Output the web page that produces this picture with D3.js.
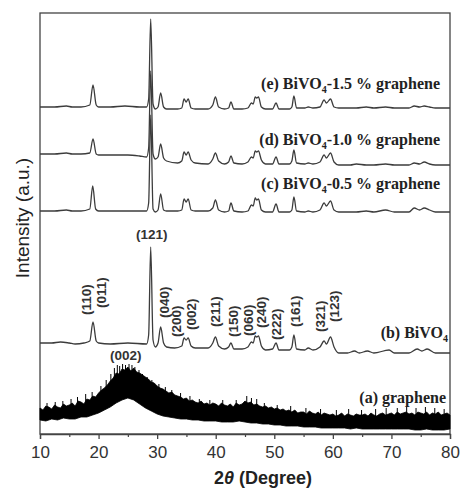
<!DOCTYPE html>
<html>
<head>
<meta charset="utf-8">
<script src="https://cdn.jsdelivr.net/npm/d3@7"></script>
<style>
  body { margin: 0; background: #fff; }
  svg { display: block; }
  .tick text { font-family: "Liberation Sans", Arial, sans-serif; }
</style>
</head>
<body>
<div id="chart"></div>
<script>
// 2theta (deg) and relative intensity
const bivo4 = [
  [10,0],[12,0],[13.5,1],[15,0],[16,-1],[17.5,0],[18.5,2],[19.05,21],[19.6,2],[20,0],[22,-1],[25,0],
  [28.2,-1],[28.55,8],[28.9,96],[29.3,3],[29.7,-4],[30.15,0],[30.6,16],[31.1,0],[31.6,-4],[33,-5],
  [34.2,-3],[34.6,5],[34.95,3],[35.3,5],[35.8,-3],[36.5,-5],[38.7,-5],[39.5,0],[39.95,6],[40.5,-3],
  [41.5,-6],[42.2,-4],[42.6,0],[43.1,-6],[44.5,-6],[45.5,-4],[46.1,1],[46.4,0],[46.75,7],[47,6],
  [47.3,7],[47.8,-3],[48.5,-7],[49.7,-6],[50.3,0],[50.8,-7],[52.6,-7],[53,-4],[53.35,8],[53.8,-6],
  [55.2,-7],[55.8,-5],[56.6,-7],[57.8,-4],[58.5,2],[58.9,-1],[59.6,6],[60.2,-4],[61,-10],[62.5,-10],
  [63.7,-8],[64.5,-10],[65.9,-8],[67,-10],[69.6,-7],[70.5,-10],[73,-10],[74.4,-6],[75.2,-8],
  [76.1,-6],[77.5,-10],[80,-10]
];
const bivo4g05 = [
  [10,0],[12.5,0],[14.5,1],[15.5,0],[17,0],[18.5,2],[19,25],[19.5,2],[20,0],[22,0],[25,0],[27,0],
  [28.2,0],[28.55,8],[28.9,96],[29.3,2],[29.7,-1],[30.15,1],[30.6,17],[31.1,1],[31.6,0],[33.5,0],
  [34.2,1],[34.6,12],[34.95,9],[35.3,12],[35.8,1],[36.5,0],[38.7,0],[39.5,3],[39.95,11],[40.5,1],
  [41.5,-1],[42.2,0],[42.6,8],[43.1,0],[44.5,-1],[45.5,0],[46.1,6],[46.4,5],[46.75,13],[47,11],
  [47.3,12],[47.8,1],[48.5,-1],[49.7,-1],[50.3,7],[50.8,-1],[52.6,-1],[53,1],[53.35,14],[53.8,0],
  [55.2,-1],[55.8,0],[56.6,-1],[57.8,1],[58.5,8],[58.9,5],[59.6,10],[60.2,1],[61,-1],[63,-1],
  [64,-1],[65.7,0],[67,-1],[69,1],[70.5,-1],[73,-1],[73.9,3],[74.8,1],[75.6,3],[76.5,1],[77.5,-1],[80,-1]
];
const bivo4g10 = [
  [10,0],[12.5,0],[14.5,1],[15.5,0],[17,0],[18.5,1],[19.05,15],[19.6,0],[20,-1],[22,-1],[25,-1],
  [27,-2],[28.2,-3],[28.55,6],[28.9,83],[29.3,0],[29.7,-5],[30.15,-3],[30.6,10],[31.1,-4],[31.6,-7],
  [33.5,-9],[34.2,-7],[34.6,2],[34.95,-1],[35.3,2],[35.8,-6],[36.5,-9],[38.7,-10],[39.5,-5],
  [39.95,1],[40.5,-7],[41.5,-10],[42.2,-8],[42.6,-2],[43.1,-9],[44.5,-10],[45.5,-8],[46.1,-3],
  [46.4,-4],[46.75,3],[47,2],[47.3,3],[47.8,-6],[48.5,-10],[49.7,-10],[50.3,-3],[50.8,-10],
  [52.6,-10],[53,-7],[53.35,4],[53.8,-9],[55.2,-10],[55.8,-9],[56.6,-10],[57.8,-8],[58.5,-1],
  [58.9,-4],[59.6,1],[60.2,-8],[61,-11],[63,-11],[64,-10],[65.7,-11],[67,-11],[69,-10],[70.5,-11],
  [73,-11],[73.9,-9],[74.8,-10],[75.6,-8],[76.5,-10],[77.5,-11],[80,-11]
];
const bivo4g15 = [
  [10,0],[12.5,0],[14.5,1],[15.5,0],[17,0],[18.5,2],[19.05,22],[19.6,2],[20,0],[22,0],[24.5,1],
  [27,0],[28.2,0],[28.55,8],[28.9,88],[29.3,3],[29.7,-2],[30.15,0],[30.6,14],[31.1,0],[31.6,-2],
  [33.5,-2],[34.2,-1],[34.6,8],[34.95,5],[35.3,8],[35.8,-1],[36.5,-2],[38.7,-2],[39.5,2],[39.95,10],
  [40.5,0],[41.5,-2],[42.2,-1],[42.6,5],[43.1,-2],[44.5,-2],[45.5,-1],[46.1,4],[46.4,3],[46.75,10],
  [47,9],[47.3,10],[47.8,0],[48.5,-2],[49.7,-2],[50.3,4],[50.8,-2],[52.6,-2],[53,0],[53.35,11],
  [53.8,-1],[55.2,-1],[55.8,0],[56.6,-1],[57.8,0],[58.5,7],[58.9,4],[59.6,8],[60.2,0],[61,-1],
  [63,-1],[64,-1],[65.7,0],[67,-1],[69,0],[70.5,-1],[73,-1],[73.9,1],[74.8,0],[75.6,1],[76.5,0],
  [77.5,-1],[80,-1]
];

// graphene: noisy trace, drawn as the band between its upper and lower edges plus its tallest spikes
const grapheneUpperStart = 10, grapheneUpperStep = 0.5;
const grapheneUpper = [
  26,24,28,27,25,29,27,26,30,28, 29,31,28,33,32,30,35,34,38,37,
  41,44,46,49,53,56,61,60,65,64, 67,63,66,62,61,59,57,55,52,51,
  48,46,45,43,41,42,39,38,37,35, 36,33,34,32,31,33,30,31,29,31,
  30,28,31,29,28,30,27,31,29,30, 33,31,32,29,30,28,27,28,26,27,
  25,26,24,25,23,24,22,24,21,22, 22,20,23,21,20,22,19,21,20,19,
  20,18,19,21,18,20,19,18,20,19, 19,20,18,21,19,18,20,21,19,20,
  21,19,22,20,21,22,20,21,19,22, 21,20,22,19,21,20,22,19,20,21, 19
];
const grapheneLowerStart = 10, grapheneLowerStep = 1;
const grapheneLower = [
  14,13,15,14,16,15,15,17,17,19, 21,24,27,31,34,36,34,30,26,23,
  20,18,17,16,15,15,14,14,13,13, 13,12,12,12,13,12,11,11,10,10,
  9,9,8,8,8,7,7,7,6,6, 6,6,6,5,6,5,5,5,5,5, 5,5,5,5,4,4,5,4,4,4, 5
];
const grapheneSpikes = [
  [11.2,31],[12.6,32],[13.9,33],[15.3,35],[16.4,37],[17.8,40],[18.9,42],[20.4,48],[21.3,54],
  [22.1,60],[22.7,66],[23.2,69],[23.6,68],[24.1,70],[24.6,69],[25.2,70],[25.7,69],[26.2,67],
  [26.9,64],[27.5,60],[28.3,57],[29.1,54],[30.3,50],[31.4,47],[32.5,44],[34,41],[35.6,38],
  [37.2,35],[39,34],[41.2,34],[43.5,34],[45.3,38],[46.1,36],[47,35],[48.3,31],[50.5,29],
  [52.8,28],[55.4,26],[57.9,25],[60.6,24],[62.7,25],[64.9,24],[67.3,25],[69.1,26],[71,26],
  [72.6,27],[74.2,26],[75.8,27],[77.4,26],[79,25]
];

const seriesNames = ["(e) BiVO4-1.5 % graphene", "(d) BiVO4-1.0 % graphene",
                     "(c) BiVO4-0.5 % graphene", "(b) BiVO4", "(a) graphene"];
const seriesOffsets = [327, 280, 223, 91, 0];
const seriesLabelLevel = [345, 289, 245, 96, 31];

// Miller indices: [label, 2theta, level]
const hklRotated = [
  ["(110)",17.95,119],["(011)",20.51,126],["(040)",31.29,116],["(200)",33.33,97],
  ["(002)",35.89,104],["(211)",39.98,107],["(150)",43.04,97],["(060)",45.6,98],
  ["(240)",47.81,106],["(222)",50.37,94],["(161)",53.6,107],["(321)",57.86,102],["(123)",60.25,112]
];
const hklFlat = [["(121)",29.08,195],["(002)",24.65,74]];

const xTicks = [10,20,30,40,50,60,70,80];
const xMinorTicks = [15,25,35,45,55,65,75];

let margin = {top: 13, right: 11, bottom: 56, left: 40},
    width = 461 - margin.left - margin.right,
    height = 490 - margin.top - margin.bottom;

const svg = d3.select("#chart")
    .append("svg")
    .attr("width", 461)
    .attr("height", 490);

const g = svg.append("g")
    .attr("transform", "translate(" + margin.left + "," + margin.top + ")");

const x = d3.scaleLinear().domain([10, 80]).range([0, width]);
const y = d3.scaleLinear().domain([0, 421]).range([height, 0]);

const ink = "#444";
const curve = d3.line()
    .x(d => x(d[0]))
    .y(d => y(d[1]))
    .curve(d3.curveMonotoneX);
const straight = d3.line()
    .x(d => x(d[0]))
    .y(d => y(d[1]));

// frame
g.append("rect")
    .attr("width", width)
    .attr("height", height)
    .attr("fill", "none")
    .attr("stroke", ink)
    .attr("stroke-width", 1.3);

// BiVO4 patterns
[bivo4g15, bivo4g10, bivo4g05, bivo4].forEach(function(s, i) {
    g.append("path")
        .datum(s.map(d => [d[0], d[1] + seriesOffsets[i]]))
        .attr("fill", "none")
        .attr("stroke", "#3c3c3c")
        .attr("stroke-width", 1.3)
        .attr("stroke-linejoin", "round")
        .attr("d", curve);
});

// graphene band
const up = grapheneUpper.map((v, i) => [grapheneUpperStart + i * grapheneUpperStep, v + seriesOffsets[4]]);
const lo = grapheneLower.map((v, i) => [grapheneLowerStart + i * grapheneLowerStep, v + seriesOffsets[4]]);
g.append("path")
    .datum(up.concat(lo.slice().reverse()))
    .attr("fill", "#000")
    .attr("stroke", "#000")
    .attr("stroke-width", 0.8)
    .attr("d", d => straight(d) + "Z");

g.append("g")
    .selectAll("line")
    .data(grapheneSpikes)
    .enter()
    .append("line")
    .attr("x1", d => x(d[0]))
    .attr("x2", d => x(d[0]))
    .attr("y1", d => y(d[1] + seriesOffsets[4]))
    .attr("y2", d => y(d[1] + seriesOffsets[4] - 12))
    .attr("stroke", "#000")
    .attr("stroke-width", 1);

// series names
g.append("g")
    .selectAll("text")
    .data(seriesNames)
    .enter()
    .append("text")
    .attr("x", (d, i) => i === 3 ? width - 2 : (i === 4 ? width - 4 : width - 10))
    .attr("y", (d, i) => y(seriesLabelLevel[i]))
    .attr("text-anchor", "end")
    .style("font-family", "'Liberation Serif', 'Times New Roman', serif")
    .style("font-weight", "bold")
    .style("font-size", "16px")
    .style("fill", "#222")
    .each(function(d) {
        const t = d3.select(this);
        const m = d.match(/^(.*BiVO)4(.*)$/);
        if (m) {
            t.append("tspan").text(m[1]);
            t.append("tspan").attr("dy", 4).style("font-size", "10px").text("4");
            if (m[2]) t.append("tspan").attr("dy", -4).text(m[2]);
        } else {
            t.text(d);
        }
    });

// hkl labels
g.append("g")
    .selectAll("text")
    .data(hklRotated)
    .enter()
    .append("text")
    .attr("transform", d => "translate(" + x(d[1]) + "," + y(d[2]) + ") rotate(-90)")
    .attr("dy", "0.35em")
    .style("font-family", "'Liberation Sans', Arial, sans-serif")
    .style("font-weight", "bold")
    .style("font-size", "13.5px")
    .style("fill", "#333")
    .text(d => d[0]);

g.append("g")
    .selectAll("text")
    .data(hklFlat)
    .enter()
    .append("text")
    .attr("x", d => x(d[1]))
    .attr("y", d => y(d[2]))
    .attr("text-anchor", "middle")
    .style("font-family", "'Liberation Sans', Arial, sans-serif")
    .style("font-weight", "bold")
    .style("font-size", "13.5px")
    .style("fill", "#333")
    .text(d => d[0]);

// x axis
const ax = g.append("g")
    .attr("transform", "translate(0," + height + ")")
    .call(d3.axisBottom(x).tickValues(xTicks).tickSize(5).tickPadding(7).tickFormat(d3.format("d")));
ax.select(".domain").attr("stroke", ink).attr("stroke-width", 1.3);
ax.selectAll(".tick line").attr("stroke", ink).attr("stroke-width", 1.3);
ax.selectAll(".tick text").style("font-size", "17px").style("fill", "#333");

const axm = g.append("g")
    .attr("transform", "translate(0," + height + ")")
    .call(d3.axisBottom(x).tickValues(xMinorTicks).tickSize(3).tickFormat(""));
axm.select(".domain").remove();
axm.selectAll(".tick line").attr("stroke", ink).attr("stroke-width", 1.2);

// axis titles
const xt = svg.append("text")
    .attr("x", 263)
    .attr("y", 484)
    .attr("text-anchor", "middle")
    .style("font-family", "'Liberation Sans', Arial, sans-serif")
    .style("font-weight", "bold")
    .style("font-size", "18px")
    .style("fill", "#222");
xt.append("tspan").text("2");
xt.append("tspan").style("font-style", "italic").text("θ");
xt.append("tspan").text(" (Degree)");

svg.append("text")
    .attr("transform", "translate(29,218) rotate(-90)")
    .attr("text-anchor", "middle")
    .style("font-family", "'Liberation Sans', Arial, sans-serif")
    .style("font-size", "19px")
    .style("fill", "#222")
    .text("Intensity (a.u.)");
</script>
</body>
</html>
